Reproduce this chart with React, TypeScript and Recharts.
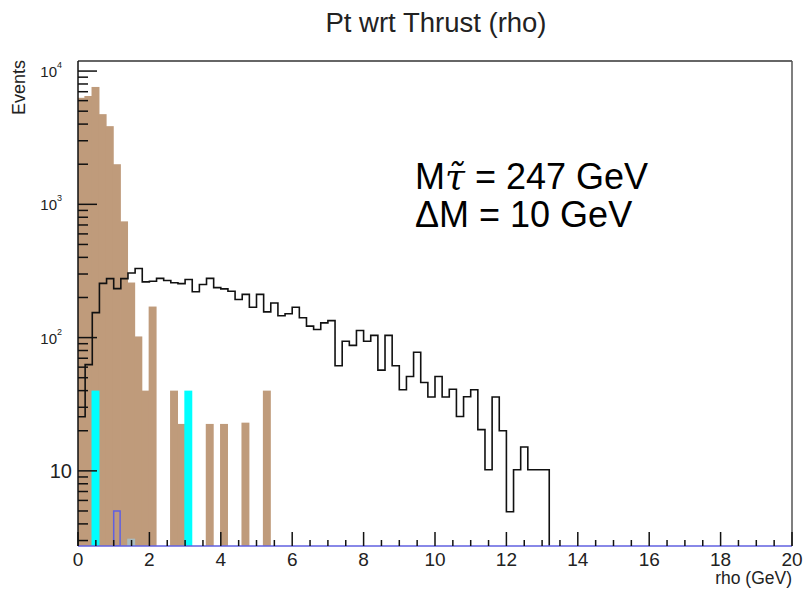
import { ComposedChart, Bar, Line, XAxis, YAxis } from "recharts"

const W = 803
const H = 592
const X_MIN = 0
const X_MAX = 20
const Y_MIN = 2.73
const Y_MAX = 11900
const BIN_WIDTH = 0.2
const N_BINS = 100

// background (brown), bins of 0.2 starting at 0
const brownCounts = [
  6300, 6500, 7600, 4750, 3860, 2000, 745, 259, 102, 40,
  171, null, null, 40, 22.5, null, null, null, 22.5, null,
  22.5, null, null, 23, null, null, 40,
]
// cyan histogram
const cyanBins = [2, 15]
const cyanCounts = [40, 40]
// small grey histogram
const greyBins = [7]
const greyCounts = [3.1]
// blue outline histogram
const blueBins = [5]
const blueCounts = [5.0]
// signal (black step line), bins of 0.2 starting at 0
const signalCounts = [
  25.5, 62.7, 154, 255, 277, 233, 277, 305, 330, 262,
  265, 278, 268, 258, 254, 273, 221, 250, 278, 237,
  232, 223, 193, 211, 169, 211, 156, 182, 146, 151,
  169, 141, 122, 115, 129, 134, 61.5, 94, 87.5, 113,
  94, 104, 57, 104, 61.5, 40.6, 51, 77.6, 46, 35.8,
  51, 35.8, 41, 25.6, 36, 40.6, 20.4, 10.2, 35.8, 20,
  4.94, 10.2, 15.1, 10.2, 10.2, 10.2,
]

const xTicks = Array.from({ length: 41 }, (_, i) => i * 0.5)
const yTicks = [
  3, 4, 5, 6, 7, 8, 9,
  10, 20, 30, 40, 50, 60, 70, 80, 90,
  100, 200, 300, 400, 500, 600, 700, 800, 900,
  1000, 2000, 3000, 4000, 5000, 6000, 7000, 8000, 9000,
  10000,
]

const pick = (idx: number[], vals: number[], i: number) => {
  const j = idx.indexOf(i)
  return j >= 0 ? vals[j] : null
}

const bins = Array.from({ length: N_BINS }, (_, i) => ({
  x: +(i * BIN_WIDTH + BIN_WIDTH / 2).toFixed(2),
  brown: brownCounts[i] ?? null,
  cyan: pick(cyanBins, cyanCounts, i),
  grey: pick(greyBins, greyCounts, i),
  blue: pick(blueBins, blueCounts, i),
}))

// step line points at bin lower edges, closed down to the frame bottom
const signalSteps = signalCounts
  .map((v, i) => ({ x: +(i * BIN_WIDTH).toFixed(2), signal: v }))
  .concat([{ x: +(signalCounts.length * BIN_WIDTH).toFixed(2), signal: Y_MIN }])

const FONT = "'Liberation Sans', Arial, Helvetica, sans-serif"
const BLUE = "#6060e0"
const MARGIN = { top: 60, right: 10, bottom: 45, left: 77 }
const PLOT_W = W - MARGIN.left - MARGIN.right - 2
const BIN_PX = (PLOT_W / (X_MAX - X_MIN)) * BIN_WIDTH

// filled bin drawn about the bar centre, full bin wide, overlapping a hair
const FilledBin = (props: any) => {
  const { x, y, width, height, fill } = props
  if (!height || height <= 0) return null
  const cx = x + width / 2
  const half = BIN_PX / 2 + 0.4
  return <rect x={cx - half} y={y} width={2 * half} height={height} fill={fill} />
}

const XTick = (props: any) => {
  const { x, y, payload } = props
  const v = payload.value
  const major = Math.abs(v / 2 - Math.round(v / 2)) < 1e-6
  return (
    <g>
      <line x1={x} y1={y} x2={x} y2={y - (major ? 14 : 6)} stroke="#111" strokeWidth={1.5} />
      {major && (
        <text x={x} y={y + 20} textAnchor="middle" fontSize={19} fontFamily={FONT} fill="#222">
          {v}
        </text>
      )}
    </g>
  )
}

const YTick = (props: any) => {
  const { x, y, payload } = props
  const v = payload.value
  const exp = Math.round(Math.log10(v))
  const major = Math.abs(v - Math.pow(10, exp)) < 1e-6
  return (
    <g>
      <line x1={x} y1={y} x2={x + (major ? 19 : 10)} y2={y} stroke="#111" strokeWidth={1.5} />
      {major && exp === 1 && (
        <text x={x - 6} y={y + 7} textAnchor="end" fontSize={20} fontFamily={FONT} fill="#222">
          10
        </text>
      )}
      {major && exp > 1 && (
        <g fontFamily={FONT} fill="#222">
          <text x={x - 21} y={y + 6} textAnchor="end" fontSize={15}>10</text>
          <text x={x - 21} y={y - 3} textAnchor="start" fontSize={9}>{exp}</text>
        </g>
      )}
    </g>
  )
}

export default function App() {
  return (
    <div style={{ position: "absolute", left: 0, top: 0, width: W, height: H, background: "#fff" }}>
      <ComposedChart
        width={W}
        height={H}
        data={bins}
        margin={MARGIN}
        barCategoryGap={0}
        barGap={0}
      >
        <XAxis
          xAxisId="a"
          dataKey="x"
          type="number"
          domain={[X_MIN, X_MAX]}
          allowDataOverflow
          ticks={xTicks}
          interval={0}
          tick={<XTick />}
          tickLine={false}
          tickSize={0}
          tickMargin={0}
          height={1}
          axisLine={{ stroke: BLUE, strokeWidth: 1.5 }}
        />
        <XAxis xAxisId="b" dataKey="x" type="number" domain={[X_MIN, X_MAX]} hide />
        <XAxis xAxisId="c" dataKey="x" type="number" domain={[X_MIN, X_MAX]} hide />
        <XAxis xAxisId="d" dataKey="x" type="number" domain={[X_MIN, X_MAX]} hide />
        <XAxis xAxisId="e" dataKey="x" type="number" domain={[X_MIN, X_MAX]} hide />
        <XAxis
          xAxisId="top"
          orientation="top"
          type="number"
          domain={[X_MIN, X_MAX]}
          tick={false}
          tickLine={false}
          height={1}
          axisLine={{ stroke: "#333", strokeWidth: 1.5 }}
        />
        <YAxis
          scale="log"
          type="number"
          domain={[Y_MIN, Y_MAX]}
          allowDataOverflow
          ticks={yTicks}
          interval={0}
          tick={<YTick />}
          tickLine={false}
          tickSize={0}
          tickMargin={0}
          width={1}
          axisLine={{ stroke: "#111", strokeWidth: 1.5 }}
        />
        <YAxis
          yAxisId="r"
          orientation="right"
          type="number"
          domain={[0, 1]}
          tick={false}
          tickLine={false}
          width={1}
          axisLine={{ stroke: "#555", strokeWidth: 1.5 }}
        />
        <Bar xAxisId="a" dataKey="brown" fill="#bf9b7b" barSize={BIN_PX} shape={<FilledBin />} isAnimationActive={false} />
        <Bar xAxisId="b" dataKey="cyan" fill="#00ffff" barSize={BIN_PX} shape={<FilledBin />} isAnimationActive={false} />
        <Bar xAxisId="c" dataKey="grey" fill="#a9bbbf" barSize={BIN_PX} shape={<FilledBin />} isAnimationActive={false} />
        <Bar xAxisId="d" dataKey="blue" fill="none" stroke={BLUE} strokeWidth={1.5} barSize={BIN_PX} isAnimationActive={false} />
        <Line
          xAxisId="e"
          data={signalSteps}
          dataKey="signal"
          type="stepAfter"
          stroke="#111"
          strokeWidth={1.6}
          dot={false}
          activeDot={false}
          isAnimationActive={false}
        />
      </ComposedChart>
      <svg
        width={W}
        height={H}
        style={{ position: "absolute", left: 0, top: 0, pointerEvents: "none" }}
        fontFamily={FONT}
      >
        <text x={436} y={32} textAnchor="middle" fontSize={27.5} fill="#222">
          Pt wrt Thrust (rho)
        </text>
        <text x={25} y={60} transform="rotate(-90 25 60)" textAnchor="end" fontSize={18} fill="#222">
          Events
        </text>
        <text x={792} y={584} textAnchor="end" fontSize={17.5} fill="#222">
          rho (GeV)
        </text>
        <text x={415} y={189} fontSize={36} fill="#000">
          M<tspan fontStyle="italic" fontFamily="'DejaVu Serif', 'Liberation Serif', serif">τ̃</tspan> = 247 GeV
        </text>
        <text x={415} y={227} fontSize={36} fill="#000">
          ΔM = 10 GeV
        </text>
      </svg>
    </div>
  )
}
